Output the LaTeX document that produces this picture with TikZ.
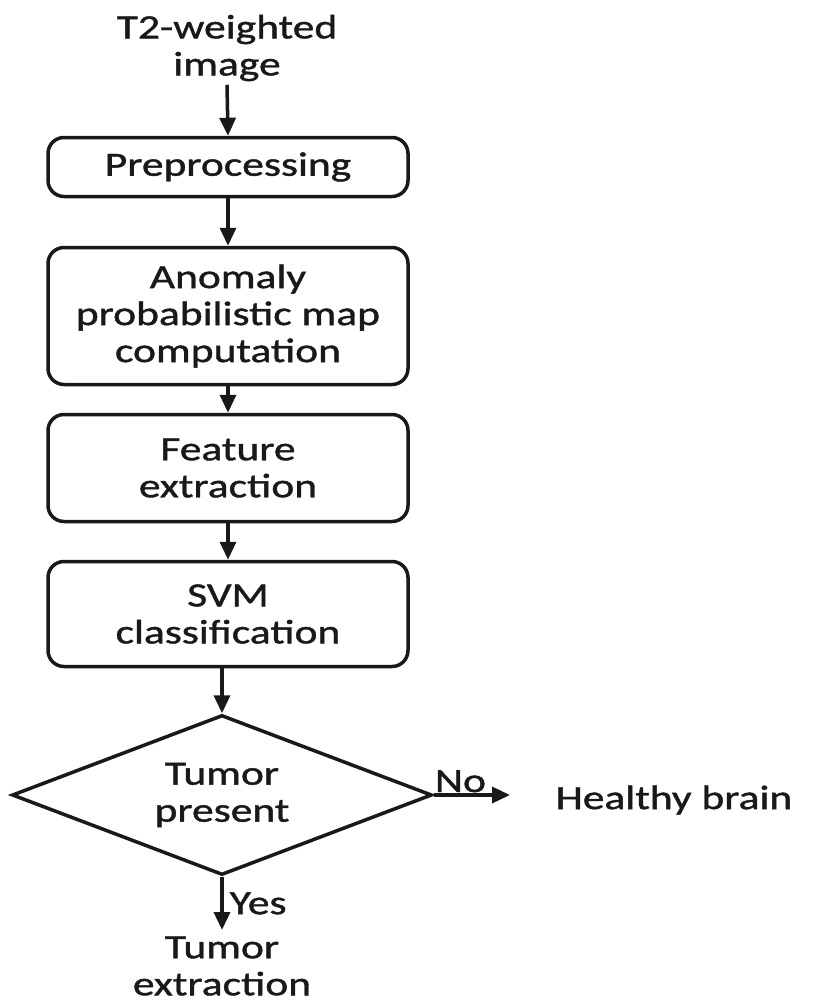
\documentclass[tikz,border=0pt]{standalone}
\usepackage{fontspec}
\setmainfont{Carlito}[FakeStretch=1.28, FakeBold=1.2]
\usetikzlibrary{shapes.geometric,arrows.meta}
\begin{document}
\begin{tikzpicture}[x=1pt,y=-1pt,
  every node/.style={font=\fontsize{34}{37}\selectfont, align=center, text=black!90},
  proc/.style={draw=black!90, line width=3.5pt, rounded corners=16pt, minimum width=360pt, inner sep=0pt},
  link/.style={draw=black!90, line width=3.5pt, -{Triangle[length=18pt,width=16pt]}}]
\useasboundingbox (0,0) rectangle (813,1007);
\node (in) at (227,48) {T2-weighted\\image};
\node[proc, minimum height=59pt] (pre) at (228,167) {Preprocessing};
\node[proc, minimum height=137pt] (apm) at (228,316) {Anomaly\\probabilistic map\\computation};
\node[proc, minimum height=107pt] (fe) at (228,468) {Feature\\extraction};
\node[proc, minimum height=105pt] (svm) at (228,614) {SVM\\classification};
\node[diamond, draw=black!90, line width=3.5pt, minimum width=420pt, minimum height=160pt, inner sep=0pt, aspect=2.6] (dec) at (222,795) {};
\node at (222,795) {Tumor\\present};
\node (hb) at (674,800) {Healthy brain};
\node (te) at (222,966) {Tumor\\extraction};
\coordinate (noend) at (510,795);
\coordinate (yesend) at (222,930);
\draw[link] (in.south) -- (pre.north);
\draw[link] (pre) -- (apm);
\draw[link] (apm) -- (fe);
\draw[link] (fe) -- (svm);
\draw[link] (svm.south -| dec.north) -- (dec.north);
\draw[link] (dec.east) -- node[pos=0.35, above, inner sep=1pt] {No} (noend);
\draw[link] (dec.south) -- node[right, inner sep=6pt] {Yes} (yesend);
\end{tikzpicture}
\end{document}
